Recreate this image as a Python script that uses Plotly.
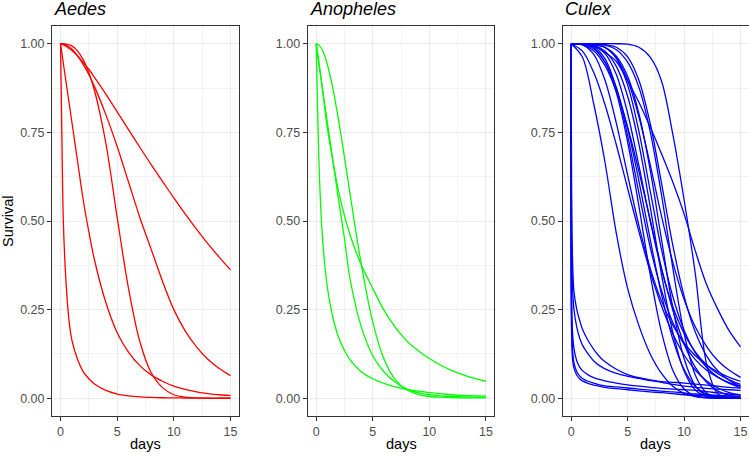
import plotly.graph_objects as go

# ---------------- data ----------------
DAYS_FINE = [0, 0.1, 0.25, 0.5, 0.75, 1, 1.5, 2, 2.5, 3, 4, 5, 6, 7, 8, 9, 10, 11, 12, 13, 14, 15]
DAYS_INT = [0, 1, 2, 3, 4, 5, 6, 7, 8, 9, 10, 11, 12, 13, 14, 15]

# Aedes (on DAYS_FINE)
aedes_1 = [1, 0.999, 0.997, 0.993, 0.987, 0.981, 0.966, 0.947, 0.928, 0.905, 0.858, 0.808, 0.758, 0.708, 0.659, 0.612, 0.565, 0.52, 0.477, 0.436, 0.398, 0.362]
aedes_2 = [1, 1, 0.999, 0.996, 0.991, 0.985, 0.966, 0.942, 0.913, 0.879, 0.80, 0.71, 0.61, 0.51, 0.42, 0.33, 0.25, 0.19, 0.145, 0.11, 0.084, 0.064]
aedes_3 = [1, 1, 1, 0.999, 0.997, 0.994, 0.98, 0.955, 0.918, 0.868, 0.72, 0.51, 0.31, 0.16, 0.072, 0.03, 0.01, 0.003, 0.001, 0, 0, 0]
aedes_4 = [1, 0.978, 0.945, 0.89, 0.835, 0.78, 0.67, 0.56, 0.47, 0.39, 0.27, 0.185, 0.13, 0.092, 0.066, 0.048, 0.034, 0.025, 0.018, 0.013, 0.01, 0.0075]
aedes_5 = [1, 0.79, 0.5, 0.32, 0.22, 0.165, 0.11, 0.075, 0.055, 0.04, 0.022, 0.012, 0.007, 0.004, 0.0025, 0.0015, 0.001, 0.0007, 0.0005, 0.0003, 0.0002, 0.0001]

# Anopheles (on DAYS_FINE)
anoph_1 = [1, 0.999, 0.996, 0.985, 0.966, 0.94, 0.87, 0.78, 0.68, 0.575, 0.375, 0.215, 0.11, 0.052, 0.024, 0.011, 0.005, 0.003, 0.002, 0.001, 0.001, 0.001]
anoph_2 = [1, 0.977, 0.943, 0.885, 0.82, 0.76, 0.665, 0.58, 0.515, 0.46, 0.375, 0.31, 0.248, 0.2, 0.162, 0.135, 0.112, 0.093, 0.078, 0.066, 0.056, 0.048]
anoph_3 = [1, 0.977, 0.943, 0.885, 0.83, 0.775, 0.665, 0.555, 0.45, 0.335, 0.2, 0.12, 0.074, 0.045, 0.026, 0.016, 0.01, 0.007, 0.005, 0.004, 0.003, 0.003]
anoph_4 = [1, 0.85, 0.66, 0.48, 0.38, 0.31, 0.225, 0.17, 0.135, 0.108, 0.074, 0.055, 0.042, 0.032, 0.025, 0.02, 0.016, 0.013, 0.01, 0.008, 0.007, 0.006]

# Culex, fast-dropping curves (on DAYS_FINE)
culex_s1 = [1, 0.42, 0.3, 0.25, 0.22, 0.195, 0.163, 0.138, 0.118, 0.103, 0.082, 0.067, 0.058, 0.052, 0.047, 0.045, 0.043, 0.04, 0.037, 0.034, 0.031, 0.029]
culex_s2 = [1, 0.33, 0.25, 0.2, 0.17, 0.15, 0.125, 0.105, 0.092, 0.083, 0.07, 0.062, 0.056, 0.05, 0.045, 0.039, 0.034, 0.031, 0.028, 0.026, 0.024, 0.022]
culex_s3 = [1, 0.2, 0.14, 0.105, 0.088, 0.078, 0.066, 0.058, 0.053, 0.049, 0.043, 0.038, 0.034, 0.031, 0.028, 0.026, 0.024, 0.022, 0.019, 0.015, 0.012, 0.01]
culex_s4 = [1, 0.15, 0.1, 0.075, 0.063, 0.056, 0.048, 0.043, 0.038, 0.035, 0.032, 0.029, 0.026, 0.023, 0.02, 0.018, 0.015, 0.012, 0.01, 0.008, 0.007, 0.006]
culex_s5 = [1, 0.12, 0.085, 0.065, 0.055, 0.049, 0.042, 0.037, 0.034, 0.031, 0.027, 0.024, 0.021, 0.018, 0.016, 0.013, 0.01, 0.008, 0.006, 0.005, 0.004, 0.003]

# Culex, sigmoid curves (on DAYS_INT)
culex_c1 = [1, 0.962, 0.83, 0.665, 0.465, 0.31, 0.205, 0.125, 0.07, 0.034, 0.014, 0.005, 0.002, 0.001, 0, 0]
culex_c2 = [1, 0.979, 0.919, 0.828, 0.715, 0.592, 0.47, 0.357, 0.261, 0.182, 0.122, 0.079, 0.049, 0.029, 0.016, 0.009]
culex_c3 = [1, 0.997, 0.970, 0.897, 0.776, 0.630, 0.487, 0.367, 0.274, 0.206, 0.156, 0.120, 0.094, 0.074, 0.059, 0.048]
culex_c4 = [1, 0.999, 0.987, 0.947, 0.862, 0.723, 0.542, 0.349, 0.187, 0.079, 0.026, 0.006, 0.001, 0, 0, 0]
culex_c5 = [1, 0.999, 0.991, 0.957, 0.875, 0.741, 0.579, 0.426, 0.304, 0.214, 0.152, 0.109, 0.079, 0.059, 0.044, 0.034]
culex_c6 = [1, 0.998, 0.986, 0.948, 0.875, 0.761, 0.613, 0.448, 0.293, 0.167, 0.081, 0.033, 0.011, 0.003, 0.001, 0]
culex_c7 = [1, 1, 0.995, 0.972, 0.913, 0.804, 0.656, 0.5, 0.363, 0.258, 0.183, 0.130, 0.094, 0.069, 0.052, 0.039]
culex_c8 = [1, 1, 0.996, 0.979, 0.936, 0.852, 0.717, 0.540, 0.349, 0.186, 0.077, 0.023, 0.005, 0.001, 0, 0]
culex_c9 = [1, 1, 0.999, 0.990, 0.959, 0.884, 0.753, 0.585, 0.420, 0.287, 0.192, 0.128, 0.087, 0.060, 0.042, 0.030]
culex_c10 = [1, 1, 0.998, 0.990, 0.965, 0.908, 0.803, 0.644, 0.448, 0.256, 0.112, 0.035, 0.007, 0.001, 0, 0]
culex_c11 = [1, 1, 0.998, 0.989, 0.960, 0.898, 0.794, 0.659, 0.514, 0.384, 0.279, 0.201, 0.146, 0.106, 0.079, 0.059]
culex_c12 = [1, 1, 1, 0.996, 0.983, 0.948, 0.877, 0.752, 0.574, 0.368, 0.184, 0.065, 0.015, 0.002, 0, 0]
culex_c13 = [1, 1, 1, 0.998, 0.990, 0.963, 0.897, 0.775, 0.607, 0.432, 0.288, 0.186, 0.119, 0.077, 0.051, 0.034]
culex_c14 = [1, 0.997, 0.980, 0.938, 0.866, 0.765, 0.640, 0.503, 0.368, 0.249, 0.154, 0.087, 0.045, 0.020, 0.008, 0.003]
culex_tail = [1, 0.999, 0.993, 0.975, 0.95, 0.895, 0.835, 0.765, 0.69, 0.61, 0.52, 0.415, 0.32, 0.25, 0.19, 0.145]
culex_late = [1, 1, 1, 1, 1, 0.999, 0.99, 0.962, 0.895, 0.745, 0.56, 0.35, 0.095, 0.012, 0.001, 0]

PANEL_TITLES = ["Aedes", "Anopheles", "Culex"]
PANEL_COLORS = ["#FF0000", "#00FF00", "#0000FF"]
X_TICKS = [0, 5, 10, 15]
Y_TICKS = [0, 0.25, 0.5, 0.75, 1.0]

panels = [
    [(DAYS_FINE, s) for s in [aedes_1, aedes_2, aedes_3, aedes_4, aedes_5]],
    [(DAYS_FINE, s) for s in [anoph_1, anoph_2, anoph_3, anoph_4]],
    [(DAYS_FINE, s) for s in [culex_s1, culex_s2, culex_s3, culex_s4, culex_s5]]
    + [(DAYS_INT, s) for s in [culex_c1, culex_c2, culex_c3, culex_c4, culex_c5, culex_c6, culex_c7,
                                culex_c8, culex_c9, culex_c10, culex_c11, culex_c12, culex_c13,
                                culex_c14, culex_tail, culex_late]],
]

# ---------------- figure ----------------
W, H = 749, 456
ML, MR, MT, MB = 52, 0, 26, 40
PW = W - ML - MR
PH = H - MT - MB
domains = [[0.0, 187.0 / PW], [255.7 / PW, 442.4 / PW], [510.7 / PW, 1.0]]

FONT = "Liberation Sans, Arial, Helvetica, sans-serif"
fig = go.Figure()

for i, curves in enumerate(panels):
    ax = "" if i == 0 else str(i + 1)
    for xs, ys in curves:
        fig.add_trace(go.Scatter(
            x=xs, y=ys, mode="lines",
            line=dict(color=PANEL_COLORS[i], width=1.3, shape="spline", smoothing=0.9),
            xaxis="x" + ax, yaxis="y" + ax, showlegend=False, hoverinfo="skip",
        ))

layout = dict(
    width=W, height=H,
    margin=dict(l=ML, r=MR, t=MT, b=MB, pad=0),
    paper_bgcolor="white", plot_bgcolor="white",
    font=dict(family=FONT, color="#4D4D4D", size=12),
    showlegend=False,
)
annotations = []
for i in range(3):
    ax = "" if i == 0 else str(i + 1)
    layout["xaxis" + ax] = dict(
        domain=domains[i], range=[-0.75, 15.75], anchor="y" + ax,
        tickvals=X_TICKS, ticktext=[str(v) for v in X_TICKS],
        ticks="outside", ticklen=4, tickwidth=1, tickcolor="#333333",
        tickfont=dict(size=12.5, color="#4D4D4D", family=FONT),
        showgrid=True, gridcolor="#EBEBEB", gridwidth=1,
        minor=dict(tickvals=[2.5, 7.5, 12.5], showgrid=True, gridcolor="#F2F2F2", gridwidth=1, ticks=""),
        showline=True, mirror=True, linecolor="#333333", linewidth=1,
        zeroline=False, fixedrange=True,
    )
    layout["yaxis" + ax] = dict(
        domain=[0, 1], range=[-0.05, 1.05], anchor="x" + ax,
        tickvals=Y_TICKS, ticktext=["%.2f" % v for v in Y_TICKS],
        ticks="outside", ticklen=4, tickwidth=1, tickcolor="#333333",
        tickfont=dict(size=12.5, color="#4D4D4D", family=FONT),
        showgrid=True, gridcolor="#EBEBEB", gridwidth=1,
        minor=dict(tickvals=[0.125, 0.375, 0.625, 0.875], showgrid=True, gridcolor="#F2F2F2", gridwidth=1, ticks=""),
        showline=True, mirror=True, linecolor="#333333", linewidth=1,
        zeroline=False, fixedrange=True,
    )
    annotations.append(dict(
        text="<i>" + PANEL_TITLES[i] + "</i>", xref="x" + ax + " domain", yref="paper",
        x=0, y=1 + 17.0 / PH, xanchor="left", yanchor="middle", showarrow=False,
        font=dict(size=18, color="black", family=FONT),
    ))
    annotations.append(dict(
        text="days", xref="x" + ax + " domain", yref="paper",
        x=0.5, y=-28.0 / PH, xanchor="center", yanchor="middle", showarrow=False,
        font=dict(size=14.5, color="black", family=FONT),
    ))

annotations.append(dict(
    text="Survival", xref="paper", yref="paper",
    x=-44.0 / PW, y=0.5, xanchor="center", yanchor="middle", textangle=-90, showarrow=False,
    font=dict(size=14.5, color="black", family=FONT),
))
layout["annotations"] = annotations
fig.update_layout(**layout)

fig.write_html("out.html", config={"displayModeBar": False})
